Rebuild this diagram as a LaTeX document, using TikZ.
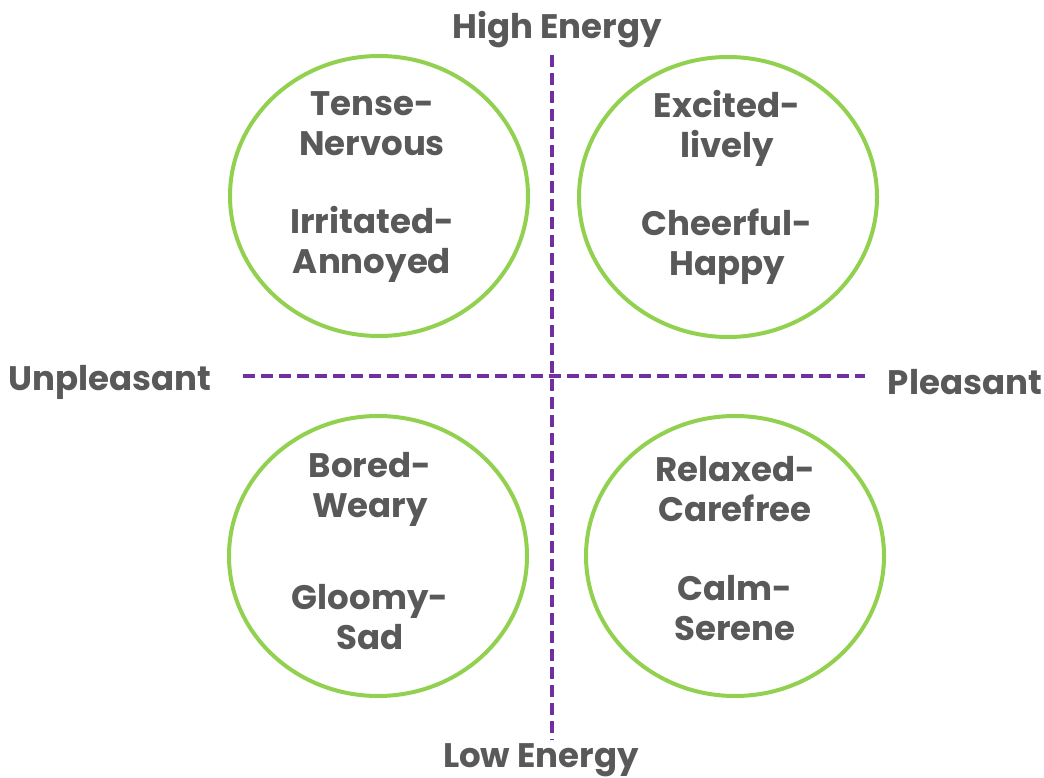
\documentclass[tikz,border=0pt]{standalone}
\usepackage{fontspec}
\setmainfont{Poppins}
\definecolor{axispurple}{HTML}{7030A0}
\definecolor{moodgreen}{HTML}{92D050}
\definecolor{labelgray}{HTML}{595959}
\tikzset{
    axis/.style={axispurple, line width=4.5pt, dash pattern=on 12pt off 6pt},
    mood/.style={moodgreen, line width=4pt},
    word/.style={text=labelgray, font=\fontsize{34}{40}\selectfont\bfseries, align=center, inner sep=0pt}
}
\begin{document}
\begin{tikzpicture}[x=1pt,y=-1pt]
        \useasboundingbox (0,0) rectangle (1044,778);

        % axes
        \coordinate (top) at (552,55);
        \coordinate (bottom) at (552,740);
        \coordinate (left) at (243,376);
        \coordinate (right) at (865,376);
        \draw[axis] (top) -- (bottom);
        \draw[axis] (left) -- (right);

        \node[word] (high) at (557,30) {High Energy};
        \node[word] (low) at (541,760) {Low Energy};
        \node[word] (unpleasant) at (110,382) {Unpleasant};
        \node[word] (pleasant) at (965,382) {Pleasant};

        % quadrants
        \draw[mood] (379,196) ellipse (149 and 140);
        \draw[mood] (728,197) ellipse (149 and 140);
        \draw[mood] (378,556) ellipse (149 and 140);
        \draw[mood] (735,556) ellipse (149 and 140);

        \node[word] (tense) at (372,124) {Tense-\\Nervous};
        \node[word] (irritated) at (372,244) {Irritated-\\Annoyed};
        \node[word] (excited) at (727,128) {Excited-\\lively};
        \node[word] (cheerful) at (727,247) {Cheerful-\\Happy};
        \node[word] (bored) at (370,489) {Bored-\\Weary};
        \node[word] (gloomy) at (370,617) {Gloomy-\\Sad};
        \node[word] (relaxed) at (735,489) {Relaxed-\\Carefree};
        \node[word] (calm) at (735,608) {Calm-\\Serene};
    \end{tikzpicture}
\end{document}
